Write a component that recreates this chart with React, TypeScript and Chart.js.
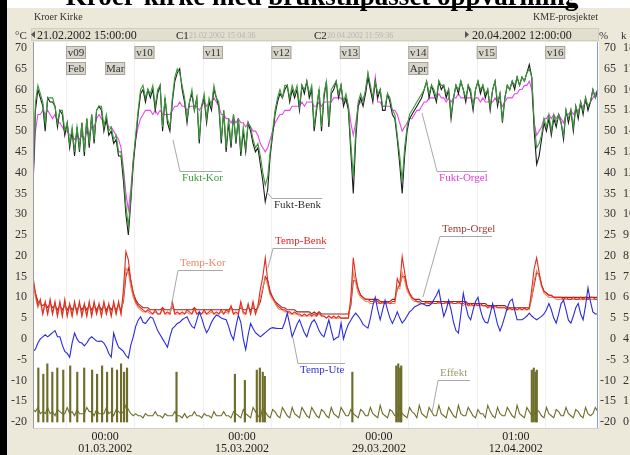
import React, { useEffect, useRef } from "react";
import { Chart, registerables } from "chart.js";
Chart.register(...registerables);

const FONT = "'Liberation Serif', 'DejaVu Serif', 'Times New Roman', serif";

// Time axis: days relative to 01.03.2002 00:00. Samples every 6 h from 21.02.2002 15:00.
const T_START = -7.375;
const T_END = 50.5;
const STEP = 0.25;

// Relative humidity (%), left axis
const FUKT_BENK = [
  37, 55, 60, 58, 56, 50, 58, 57, 57, 56, 51, 55, 54, 49, 52, 46,
  50, 44, 51, 45, 52, 44, 53, 46, 54, 47, 55, 56, 55, 50, 53, 49,
  50, 47, 48, 44, 44, 38, 30, 25, 33, 42, 48, 54, 59, 60, 57, 60,
  58, 60, 55, 59, 61, 50, 58, 52, 50, 57, 62, 64, 65, 60, 57, 52,
  57, 59, 55, 58, 47, 56, 58, 52, 57, 55, 60, 58, 56, 47, 55, 45,
  52, 46, 54, 47, 53, 44, 50, 45, 52, 50, 47, 45, 46, 42, 38, 33,
  36, 44, 49, 54, 57, 59, 58, 60, 61, 57, 60, 58, 60, 55, 61, 59,
  62, 58, 60, 50, 55, 60, 50, 58, 62, 51, 59, 60, 62, 58, 61, 56,
  58, 55, 45, 35, 48, 56, 58, 56, 59, 63, 60, 57, 62, 58, 60, 55,
  55, 59, 57, 54, 53, 48, 42, 35, 44, 50, 53, 54, 55, 56, 57, 58,
  60, 62, 58, 61, 59, 57, 62, 60, 61, 58, 60, 53, 58, 61, 59, 62,
  60, 57, 61, 59, 55, 60, 62, 59, 61, 58, 60, 55, 60, 62, 56, 59,
  52, 58, 61, 60, 62, 60, 63, 61, 63, 62, 64, 66, 63, 50, 42, 44,
  48, 52, 50, 53, 49, 53, 51, 54, 52, 48, 55, 52, 55, 50, 56, 53,
  57, 54, 58, 55, 57, 60, 58, 60,
];
const FUKT_KOR = [
  38, 57, 61, 59, 57, 52, 58, 58, 58, 56, 52, 55, 55, 50, 52, 47,
  51, 45, 51, 46, 52, 45, 53, 47, 54, 48, 55, 56, 56, 51, 54, 50,
  51, 48, 49, 45, 45, 40, 32, 27, 34, 43, 49, 55, 60, 61, 58, 60,
  59, 61, 56, 60, 61, 51, 58, 53, 51, 58, 63, 65, 64, 61, 58, 53,
  57, 60, 55, 58, 48, 56, 59, 53, 58, 56, 61, 58, 57, 48, 55, 46,
  53, 47, 54, 48, 53, 45, 51, 46, 52, 51, 48, 46, 47, 44, 40, 37,
  39, 45, 50, 55, 58, 60, 58, 61, 61, 58, 61, 59, 61, 56, 61, 60,
  62, 59, 61, 51, 56, 60, 51, 59, 62, 52, 60, 61, 62, 59, 61, 57,
  59, 56, 47, 39, 50, 57, 59, 57, 60, 64, 61, 58, 62, 59, 60, 56,
  56, 59, 58, 55, 54, 49, 44, 38, 46, 51, 54, 55, 56, 57, 58, 59,
  60, 62, 59, 61, 60, 58, 62, 61, 61, 59, 60, 54, 58, 61, 60, 62,
  60, 58, 61, 60, 56, 60, 62, 60, 61, 59, 60, 56, 60, 62, 57, 59,
  53, 58, 61, 60, 62, 61, 63, 61, 63, 62, 64, 65, 63, 52, 46, 47,
  49, 53, 51, 54, 50, 54, 52, 54, 52, 49, 55, 53, 55, 51, 56, 54,
  57, 55, 58, 56, 57, 60, 58, 59,
];
const FUKT_ORGEL = [
  37, 50, 54, 54, 55, 54, 55, 54, 53, 54, 52, 52, 51, 50, 50, 49,
  49, 48, 49, 48, 49, 48, 50, 49, 51, 51, 53, 54, 53, 52, 52, 51,
  51, 50, 49, 48, 46, 41, 35, 31, 36, 43, 48, 51, 53, 54, 55, 55,
  55, 54, 55, 54, 55, 54, 54, 54, 54, 55, 56, 56, 57, 56, 56, 55,
  56, 56, 56, 56, 55, 56, 57, 56, 57, 57, 58, 57, 56, 54, 54, 53,
  53, 52, 53, 52, 53, 52, 52, 51, 52, 51, 50, 50, 49, 47, 46, 45,
  46, 48, 50, 52, 53, 54, 54, 55, 55, 55, 56, 56, 56, 56, 57, 56,
  57, 57, 57, 56, 56, 57, 56, 57, 57, 57, 57, 58, 58, 58, 58, 57,
  57, 56, 52, 49, 52, 56, 57, 58, 59, 64, 60, 58, 63, 57, 57, 56,
  56, 56, 56, 55, 55, 54, 52, 50, 51, 52, 53, 53, 54, 55, 55, 56,
  57, 57, 58, 58, 58, 58, 59, 58, 58, 57, 58, 57, 58, 58, 59, 58,
  58, 58, 58, 58, 57, 58, 58, 57, 58, 57, 57, 57, 57, 58, 57, 57,
  56, 57, 58, 58, 58, 59, 59, 60, 60, 61, 61, 62, 60, 52, 49, 50,
  51, 53, 53, 54, 53, 54, 53, 54, 53, 52, 54, 54, 55, 54, 55, 55,
  56, 56, 57, 56, 57, 58, 59, 60,
];

// Temperatures (°C), left axis
const TEMP_BENK = [
  15, 11, 8, 9.5, 6, 9, 6, 9.5, 6, 9, 5.5, 9, 5.5, 9.5, 5.5, 8.5,
  5.5, 9, 6, 9, 5.5, 8.5, 5.5, 9, 5.5, 9, 6, 8.5, 5.5, 9, 6, 8.5,
  5.5, 9, 6, 9, 6, 12, 21, 19, 14, 11, 9, 8, 7.5, 7, 6.5, 7,
  6.5, 6, 7, 6, 6, 7.5, 6, 6.5, 6, 9, 6, 6.5, 6, 6.5, 6, 7,
  6.5, 6, 7.5, 6, 6.5, 6, 7, 6, 6.5, 7, 6, 6.5, 6, 7, 6, 7,
  6.5, 8, 6, 6.5, 6, 9, 6.5, 6, 8.5, 6, 9, 6, 8, 12, 15, 19.5,
  14, 11, 10, 9, 8, 7.5, 7, 7, 6.5, 6.5, 6, 6.5, 6, 6, 5.5, 6,
  5.5, 6, 5.5, 6, 5.5, 6.5, 5.5, 5.5, 5, 5.5, 5, 5.5, 5, 5.5, 5, 5,
  5, 5, 10, 19.5, 15, 12, 10.5, 10, 9.5, 9.5, 9, 9, 9.5, 9, 8.5, 9,
  8.5, 9, 8.5, 9, 9, 14.5, 13, 19.8, 16, 12.5, 11, 10, 9.5, 9, 9, 8.5,
  8.5, 9, 8.5, 9, 8.5, 8.5, 9, 8.5, 8.5, 9, 8.5, 9, 8.5, 8.5, 9, 8.5,
  8.5, 9, 8, 8.5, 8, 8.5, 8, 8.5, 8, 8, 7.5, 8, 7.5, 8, 7.5, 7.5,
  7.5, 7.5, 7, 7.5, 7, 7.5, 7, 7.5, 7, 7.5, 7, 7.5, 12, 17, 19.5, 16,
  13, 11.5, 11, 10.5, 10.5, 10, 10, 10, 10, 9.5, 10, 9.5, 9.5, 10, 9.5, 9.5,
  10, 9.5, 10, 9.5, 10, 10, 9.5, 9.5,
];
const TEMP_KOR = [
  14, 10, 7.5, 9, 6, 8.5, 6, 9, 6, 8.5, 5.5, 8.5, 5.5, 9, 5.5, 8,
  5.5, 8.5, 6, 8.5, 5.5, 8, 5.5, 8.5, 5.5, 8.5, 6, 8, 5.5, 8.5, 6, 8,
  5.5, 8.5, 6, 8.5, 6, 10, 17, 16, 12.5, 10, 8.5, 7.5, 7, 6.5, 6.5, 6.5,
  6, 6, 6.5, 6, 6, 7, 6, 6, 6, 8, 6, 6, 6, 6, 6, 6.5,
  6, 6, 7, 6, 6, 6, 6.5, 6, 6, 6.5, 6, 6, 6, 6.5, 6, 6.5,
  6, 7.5, 6, 6, 6, 8.5, 6, 6, 8, 6, 8.5, 6, 7.5, 10, 12.5, 14.5,
  13, 10.5, 9.5, 8.5, 7.5, 7, 7, 6.5, 6.5, 6, 6, 6, 6, 5.5, 5.5, 5.5,
  5.5, 5.5, 5.5, 5.5, 5.5, 6, 5.5, 5.5, 5, 5.5, 5, 5, 5, 5, 5, 5,
  5, 5, 9, 16, 13.5, 11, 10, 9.5, 9, 9, 8.5, 8.5, 9, 8.5, 8.5, 8.5,
  8.5, 8.5, 8.5, 8.5, 8.5, 12.5, 12, 16, 14, 11.5, 10.5, 9.5, 9, 9, 8.5, 8.5,
  8.5, 8.5, 8.5, 8.5, 8.5, 8.5, 8.5, 8.5, 8.5, 8.5, 8.5, 8.5, 8.5, 8.5, 8.5, 8.5,
  8, 8.5, 8, 8, 8, 8, 8, 8, 8, 8, 7.5, 7.5, 7.5, 7.5, 7.5, 7.5,
  7.5, 7.5, 7, 7, 7, 7, 7, 7, 7, 7, 7, 7, 10, 14, 16.5, 15,
  12.5, 11, 10.5, 10, 10, 10, 9.5, 9.5, 9.5, 9.5, 9.5, 9.5, 9.5, 9.5, 9.5, 9.5,
  9.5, 9.5, 9.5, 9.5, 9.5, 9.5, 9.5, 9.5,
];
const TEMP_ORGEL = [
  13, 11, 9, 8.5, 8, 8.5, 7.5, 8.5, 7.5, 8, 7, 8, 7, 8, 7, 8,
  7, 8, 7, 8, 7, 8, 7, 8, 7, 8, 7, 8, 7, 8, 7, 8,
  7, 8, 7, 8, 7, 9, 15, 17, 14, 11, 9.5, 8.5, 8, 7.5, 7.5, 7.5,
  7, 7, 7, 7, 7, 7.5, 7, 7, 7, 7.5, 7, 7, 7, 7, 7, 7,
  7, 7, 7.5, 7, 7, 7, 7, 7, 7, 7, 7, 7, 7, 7, 7, 7,
  7, 7.5, 7, 7, 7, 7.5, 7, 7, 7.5, 7, 7.5, 7, 7.5, 9, 12, 15,
  14, 11.5, 10, 9, 8.5, 8, 7.5, 7.5, 7, 7, 7, 7, 6.5, 6.5, 6.5, 6.5,
  6.5, 6.5, 6, 6.5, 6, 6.5, 6, 6, 6, 6, 6, 6, 6, 6, 6, 6,
  6, 6, 8, 14, 14, 12, 10.5, 10, 9.5, 9.5, 9.5, 9.5, 9.5, 9.5, 9, 9,
  9, 9, 9, 9.5, 9.5, 12, 13, 15, 15, 12.5, 11, 10, 9.5, 9.5, 9.5, 9,
  9, 9, 9, 9, 9, 9, 9, 9, 9, 9, 9, 9, 9, 9, 9, 9,
  9, 9, 8.5, 8.5, 8.5, 8.5, 8.5, 8.5, 8.5, 8.5, 8, 8, 8, 8, 8, 8,
  8, 8, 7.5, 7.5, 7.5, 7.5, 7.5, 7.5, 7.5, 7.5, 7.5, 7.5, 10, 13, 16, 15.5,
  13, 11.5, 11, 10.5, 10.5, 10, 10, 10, 10, 10, 10, 10, 10, 10, 10, 10,
  10, 10, 10, 10, 10, 10, 10, 10,
];
const TEMP_UTE = [
  -3, -2.5, -1, 0, 0.5, 1, 0.5, 1, 1.5, 2, 0.5, 0.5, -1.5, -3, -3.5, -4.4,
  -1, 1.4, 0, -0.8, -1, -1.7, -1, 0, 0.5, 0, -0.5, -0.6, -0.5, -1, -2, -3.5,
  -4.4, 1.4, -0.5, -2, -2.5, -3, -4, -4.6, -1.5, 0.5, 3, 4.5, 5.3, 4, 3.7, 4.5,
  5.3, 5, 3.5, 2, 1, 0, -1, -2, 0.5, 2.5, 3, 3.7, 4, 4.6, 5, 5.3,
  4, 3, 2.6, 4.5, 6.5, 5, 3, 1.5, 2.5, 4, 5, 5.7, 5.5, 5, 4.8, 4.6,
  3, 1, -0.2, 3, 5.7, 4, 0, -2.6, 1, 3.7, 2.5, 1.5, 1, 0.5, 1, 1.5,
  2, 2.5, 2.7, 2.6, 2.5, 2.5, 2.5, 4, 6.2, 3.5, 0.5, 2, 3.5, 4.6, 3, 1.5,
  0.5, 2.5, 4, 4.6, 3.5, 2, 1, 0.5, 2.5, 4.6, 2, -0.3, 0.2, 0.5, 3.8, 0,
  2, 3.5, 4.5, 5.5, 6.2, 5.5, 4.6, 3.5, 3, 2.6, 5, 8, 10, 7, 4.6, 7,
  9.3, 7, 5, 3.7, 5, 6.5, 5, 3.8, 4.5, 5.5, 6.5, 7, 7.7, 8, 8.3, 8.5,
  8.3, 8, 8, 8.5, 9.5, 10.5, 11.8, 8.5, 5.4, 7, 9.3, 7, 4, 2, 1.4, 6,
  11, 8, 5.5, 4.6, 7, 9, 10, 7, 5, 4, 3.8, 6, 8.5, 6, 3.5, 1.9,
  3.5, 5.5, 7.5, 9, 9.6, 7, 4.6, 4.6, 4.6, 5, 5.5, 6.2, 5.5, 5, 4.6, 5,
  5.4, 6, 7, 8.5, 7, 5, 3.8, 6, 8.5, 9.3, 7, 4.5, 3.8, 5.5, 7.5, 8.5,
  6, 4.6, 8, 12.3, 9, 6.5, 6, 6,
];

// Heating power (kW), right kW axis: 6-hourly level plus short heating peaks
const EFFEKT = [
  0.6, 0.5, 0.7, 0.4, 0.5, 0.4, 0.7, 0.4, 0.5, 0.3, 0.6, 0.5, 0.4, 0.4, 0.7, 0.4,
  0.5, 0.3, 0.6, 0.4, 0.4, 0.4, 0.7, 0.5, 0.5, 0.3, 0.6, 0.4, 0.4, 0.4, 0.7, 0.4,
  0.5, 0.3, 0.6, 0.5, 0.4, 0.5, 0.8, 0.6, 0.4, 0.3, 0.4, 0.3, 0.3, 0.2, 0.4, 0.3,
  0.3, 0.3, 0.5, 0.3, 0.3, 0.2, 0.4, 0.3, 0.3, 0.3, 0.5, 0.3, 0.3, 0.2, 0.4, 0.2,
  0.3, 0.3, 0.5, 0.3, 0.3, 0.2, 0.4, 0.3, 0.3, 0.2, 0.5, 0.3, 0.3, 0.3, 0.5, 0.3,
  0.3, 0.2, 0.5, 0.4, 0.3, 0.2, 0.6, 0.4, 0.3, 0.2, 0.7, 0.5, 0.3, 0.2, 0.7, 0.5,
  0.3, 0.2, 0.6, 0.5, 0.3, 0.2, 0.7, 0.5, 0.3, 0.2, 0.7, 0.4, 0.3, 0.2, 0.7, 0.5,
  0.3, 0.2, 0.7, 0.5, 0.3, 0.2, 0.6, 0.5, 0.3, 0.2, 0.7, 0.4, 0.3, 0.2, 0.7, 0.5,
  0.3, 0.3, 0.6, 0.4, 0.3, 0.2, 0.6, 0.5, 0.3, 0.3, 0.7, 0.4, 0.3, 0.2, 0.8, 0.4,
  0.3, 0.2, 0.6, 0.5, 0.3, 0.3, 0.7, 0.4, 0.3, 0.2, 0.7, 0.5, 0.4, 0.2, 0.8, 0.4,
  0.3, 0.2, 0.7, 0.5, 0.3, 0.3, 0.8, 0.4, 0.3, 0.2, 0.7, 0.5, 0.3, 0.2, 0.8, 0.4,
  0.3, 0.3, 0.7, 0.5, 0.3, 0.2, 0.6, 0.4, 0.4, 0.2, 0.8, 0.5, 0.3, 0.2, 0.7, 0.4,
  0.3, 0.3, 0.7, 0.5, 0.3, 0.2, 0.8, 0.4, 0.3, 0.2, 0.7, 0.5, 0.3, 0.4, 0.6, 0.5,
  0.3, 0.2, 0.7, 0.4, 0.3, 0.2, 0.6, 0.5, 0.3, 0.3, 0.7, 0.4, 0.3, 0.2, 0.6, 0.5,
  0.3, 0.2, 0.7, 0.4, 0.3, 0.4, 0.7, 0.5,
];
const PEAK_T = [
  -6.83, -6.32, -5.91, -5.4, -4.89, -4.28, -3.57, -2.85, -2.14, -1.33, -0.82, -0.31,
  0.2, 0.71, 1.22, 1.63, 1.94, 2.24, 7.3, 13.27, 14.29, 15.51, 15.82, 16.12, 16.33,
  25.28, 29.77, 29.97, 30.17, 30.28, 43.63, 43.83, 44.04, 44.14,
];
const PEAK_KW = [
  2.6, 2.3, 2.8, 2.4, 2.6, 2.5, 2.7, 2.4, 2.6, 2.5, 2.3, 2.7,
  2.4, 2.6, 2.5, 2.8, 2.4, 2.6, 2.4, 2.3, 2.0, 2.5, 2.6, 2.4, 2.2,
  2.4, 2.7, 2.8, 2.6, 2.7, 2.5, 2.6, 2.4, 2.5,
];

const X_TICKS = [0, 14, 28, 42];
const X_TICK_LABELS = [
  ["00:00", "01.03.2002"],
  ["00:00", "15.03.2002"],
  ["00:00", "29.03.2002"],
  ["01:00", "12.04.2002"],
];
const Y_TICKS = [70, 65, 60, 55, 50, 45, 40, 35, 30, 25, 20, 15, 10, 5, 0, -5, -10, -15, -20];
const KW_TICKS = [18, 17, 16, 15, 14, 13, 12, 11, 10, 9, 8, 7, 6, 5, 4, 3, 2, 1, 0];
const WEEKS = ["v09", "v10", "v11", "v12", "v13", "v14", "v15", "v16"];
const WEEK_T = [-4, 3, 10, 17, 24, 31, 38, 45];
const MONTHS = ["Feb", "Mar", "Apr"];
const MONTH_T = [-4, 0, 31];

const LABEL_TEXT = ["Fukt-Kor", "Fukt-Benk", "Fukt-Orgel", "Temp-Orgel", "Temp-Benk", "Temp-Kor", "Temp-Ute", "Effekt"];
const LABEL_COLOR = ["#3c9c3c", "#303030", "#e040e0", "#a03c3c", "#e02828", "#f0886a", "#3434d4", "#9c9c6c"];
const LABEL_PATH = [
  [[6.94, 47.86], [7.66, 40.4], [11.95, 40.4]],
  [[16.55, 35.35], [17.06, 33.9], [22.18, 33.9]],
  [[32.4, 54.36], [33.94, 40.4], [39.05, 40.4]],
  [[32.5, 10.08], [34.24, 24.76], [39.56, 24.76]],
  [[16.65, 17.06], [17.16, 21.87], [22.48, 21.87]],
  [[6.63, 6.23], [7.45, 16.58], [12.05, 16.58]],
  [[19.21, 0.21], [19.72, -5.8], [24.53, -5.8]],
  [[33.42, -17.83], [34.04, -9.89], [37.31, -9.89]],
];
const LABEL_BELOW = [true, true, true, false, false, false, true, false];

const Y_MIN = -21.444;
const Y_MAX = 71.444;

const TIMES = FUKT_BENK.map((_, i) => T_START + i * STEP);
const pts = (arr: number[]) => arr.map((v, i) => ({ x: TIMES[i], y: v }));

const decor = {
  id: "decor",
  beforeDraw(chart: any) {
    const { ctx, chartArea: a } = chart;
    const xs = chart.scales.x;
    ctx.save();
    ctx.fillStyle = "#ffffff";
    ctx.fillRect(0, 0, 630, 455);
    ctx.fillStyle = "#ece9da";
    ctx.fillRect(7, 8, 623, 447);
    ctx.fillStyle = "#000";
    ctx.fillRect(0, 0, 7, 455);

    // title (clipped at top of the picture)
    const full = "Kroer-kirke med brukstilpasset oppvarming";
    const pre = "Kroer-kirke med ";
    ctx.font = `bold 27px ${FONT}`;
    const fw = ctx.measureText(full).width;
    const pw = ctx.measureText(pre).width;
    const x0 = 322 - fw / 2;
    ctx.fillStyle = "#000";
    ctx.textBaseline = "alphabetic";
    ctx.textAlign = "left";
    ctx.fillText(full, x0, 5);
    ctx.fillRect(x0 + pw, 6, fw - pw, 2);

    // header row 1
    ctx.fillStyle = "#333";
    ctx.font = `10px ${FONT}`;
    ctx.fillText("Kroer Kirke", 34, 20);
    ctx.textAlign = "right";
    ctx.fillText("KME-prosjektet", 598, 20);

    // header row 2
    ctx.fillStyle = "#e3dfcf";
    ctx.fillRect(31, 28, 568, 13);
    ctx.strokeStyle = "#d2cebe";
    ctx.lineWidth = 1;
    ctx.strokeRect(31.5, 28.5, 567, 12);
    ctx.textAlign = "left";
    ctx.fillStyle = "#333";
    ctx.font = `11px ${FONT}`;
    ctx.fillText("°C", 15, 39);
    ctx.fillText("%", 599, 39);
    ctx.fillText("k", 621, 39);
    ctx.fillStyle = "#555";
    ctx.beginPath();
    ctx.moveTo(31, 34.5); ctx.lineTo(35, 31); ctx.lineTo(35, 38); ctx.closePath(); ctx.fill();
    ctx.beginPath();
    ctx.moveTo(469, 34.5); ctx.lineTo(465, 31); ctx.lineTo(465, 38); ctx.closePath(); ctx.fill();
    ctx.fillStyle = "#222";
    ctx.font = `12px ${FONT}`;
    ctx.fillText("21.02.2002 15:00:00", 37, 39);
    ctx.fillText("20.04.2002 12:00:00", 472, 39);
    ctx.font = `11px ${FONT}`;
    ctx.fillText("C1", 176, 39);
    ctx.fillText("C2", 314, 39);
    ctx.fillStyle = "#b4b4b4";
    ctx.font = `8px ${FONT}`;
    ctx.fillText("21.02.2002 15:04:36", 189, 38);
    ctx.fillText("20.04.2002 11:59:36", 327, 38);

    // plot area
    ctx.fillStyle = "#ffffff";
    ctx.fillRect(a.left, a.top, a.right - a.left, a.bottom - a.top);
    ctx.strokeStyle = "#f0f0f0";
    WEEK_T.forEach((t) => {
      const x = Math.round(xs.getPixelForValue(t)) + 0.5;
      ctx.beginPath(); ctx.moveTo(x, a.top); ctx.lineTo(x, a.bottom); ctx.stroke();
    });
    ctx.restore();
  },
  afterDatasetsDraw(chart: any) {
    const { ctx, chartArea: a } = chart;
    const xs = chart.scales.x;
    const ys = chart.scales.y;
    ctx.save();
    // borders
    ctx.strokeStyle = "#9a9a9a";
    ctx.lineWidth = 1;
    ctx.beginPath(); ctx.moveTo(a.left + 0.5, a.top); ctx.lineTo(a.left + 0.5, a.bottom); ctx.stroke();
    ctx.strokeStyle = "#d4d0c4";
    ctx.beginPath(); ctx.moveTo(a.left, a.bottom + 0.5); ctx.lineTo(a.right, a.bottom + 0.5); ctx.stroke();
    ctx.strokeStyle = "#7f9fe0";
    ctx.beginPath(); ctx.moveTo(a.right - 1.5, a.top); ctx.lineTo(a.right - 1.5, a.bottom); ctx.stroke();

    // series labels with leader lines
    ctx.font = `11px ${FONT}`;
    ctx.textAlign = "left";
    LABEL_TEXT.forEach((txt, k) => {
      const p = LABEL_PATH[k].map(([t, v]) => [xs.getPixelForValue(t), ys.getPixelForValue(v)]);
      ctx.strokeStyle = "#a8a8a8";
      ctx.lineWidth = 1;
      ctx.beginPath();
      ctx.moveTo(p[0][0], p[0][1]);
      ctx.lineTo(p[1][0], Math.round(p[1][1]) + 0.5);
      ctx.lineTo(p[2][0], Math.round(p[2][1]) + 0.5);
      ctx.stroke();
      ctx.fillStyle = LABEL_COLOR[k];
      if (LABEL_BELOW[k]) {
        ctx.textBaseline = "top";
        ctx.fillText(txt, p[1][0] + 2, p[1][1] + 2);
      } else {
        ctx.textBaseline = "bottom";
        ctx.fillText(txt, p[1][0] + 2, p[1][1] - 1);
      }
    });

    // week and month boxes
    ctx.textAlign = "center";
    ctx.textBaseline = "middle";
    const box = (txt: string, t: number, y: number) => {
      const x = xs.getPixelForValue(t);
      ctx.fillStyle = "#d8d5cb";
      ctx.fillRect(x, y, 20, 13);
      ctx.strokeStyle = "#a8a498";
      ctx.strokeRect(x + 0.5, y + 0.5, 19, 12);
      ctx.fillStyle = "#333";
      ctx.fillText(txt, x + 10, y + 7);
    };
    WEEKS.forEach((w, i) => box(w, WEEK_T[i], 46));
    MONTHS.forEach((m, i) => box(m, MONTH_T[i], 62));

    // right-hand axes (% and kW)
    ctx.font = `12px ${FONT}`;
    ctx.fillStyle = "#333";
    ctx.textBaseline = "middle";
    Y_TICKS.forEach((v, i) => {
      const y = ys.getPixelForValue(v);
      ctx.textAlign = "right";
      ctx.fillText(String(v), 616, y);
      ctx.textAlign = "left";
      ctx.fillText(String(KW_TICKS[i]), 623, y);
    });
    ctx.restore();
  },
};

export default function App() {
  const ref = useRef<HTMLCanvasElement>(null);
  useEffect(() => {
    document.body.style.margin = "0";
    const canvas = ref.current!;
    const line = (label: string, data: number[], color: string, order: number, axis = "y", w = 1.1) => ({
      type: "line" as const,
      label,
      data: pts(data),
      borderColor: color,
      backgroundColor: color,
      borderWidth: w,
      pointRadius: 0,
      tension: 0,
      yAxisID: axis,
      order,
    });
    const chart = new Chart(canvas, {
      type: "line",
      data: {
        datasets: [
          line("Fukt-Kor", FUKT_KOR, "#3a9a3a", 1),
          line("Fukt-Benk", FUKT_BENK, "#1c1c1c", 2),
          line("Fukt-Orgel", FUKT_ORGEL, "#e848e8", 3),
          line("Temp-Ute", TEMP_UTE, "#2a2ae0", 4),
          line("Temp-Benk", TEMP_BENK, "#e42a1e", 5),
          line("Temp-Kor", TEMP_KOR, "#f28a62", 6),
          line("Temp-Orgel", TEMP_ORGEL, "#8c2a20", 7),
          line("Effekt", EFFEKT, "#6e6e2a", 8, "yk", 1.1),
          {
            type: "bar" as const,
            label: "Effekt-topp",
            data: PEAK_T.map((t, i) => ({ x: t, y: PEAK_KW[i] })),
            backgroundColor: "#6e6e2a",
            borderWidth: 0,
            barThickness: 1.5,
            yAxisID: "yk",
            order: 9,
          } as any,
        ],
      },
      options: {
        responsive: false,
        animation: false,
        events: [],
        layout: { padding: { top: 42, right: 31, left: 0, bottom: 0 } },
        plugins: { legend: { display: false }, tooltip: { enabled: false } },
        scales: {
          x: {
            type: "linear",
            min: T_START,
            max: T_END,
            offset: false,
            afterBuildTicks: (s: any) => {
              s.ticks = X_TICKS.map((v) => ({ value: v }));
            },
            afterFit: (s: any) => {
              s.height = 27;
            },
            grid: { display: false, drawTicks: false },
            border: { display: false },
            ticks: {
              autoSkip: false,
              maxRotation: 0,
              padding: 3,
              color: "#222",
              font: { family: FONT, size: 12, lineHeight: 1.0 },
              callback: (v: any) => {
                const k = X_TICKS.indexOf(Number(v));
                return k >= 0 ? X_TICK_LABELS[k] : "";
              },
            },
          },
          y: {
            type: "linear",
            position: "left",
            min: Y_MIN,
            max: Y_MAX,
            afterBuildTicks: (s: any) => {
              s.ticks = Y_TICKS.map((v) => ({ value: v }));
            },
            afterFit: (s: any) => {
              s.width = 33;
            },
            grid: { display: false, drawTicks: false },
            border: { display: false },
            ticks: { padding: 6, color: "#333", font: { family: FONT, size: 12 } },
          },
          yk: {
            type: "linear",
            display: false,
            min: (Y_MIN + 20) / 5,
            max: (Y_MAX + 20) / 5,
          },
        },
      } as any,
      plugins: [decor],
    });
    return () => chart.destroy();
  }, []);
  return (
    <div style={{ position: "fixed", left: 0, top: 0, width: 630, height: 455 }}>
      <canvas ref={ref} width={630} height={455} style={{ width: 630, height: 455, display: "block" }} />
    </div>
  );
}
